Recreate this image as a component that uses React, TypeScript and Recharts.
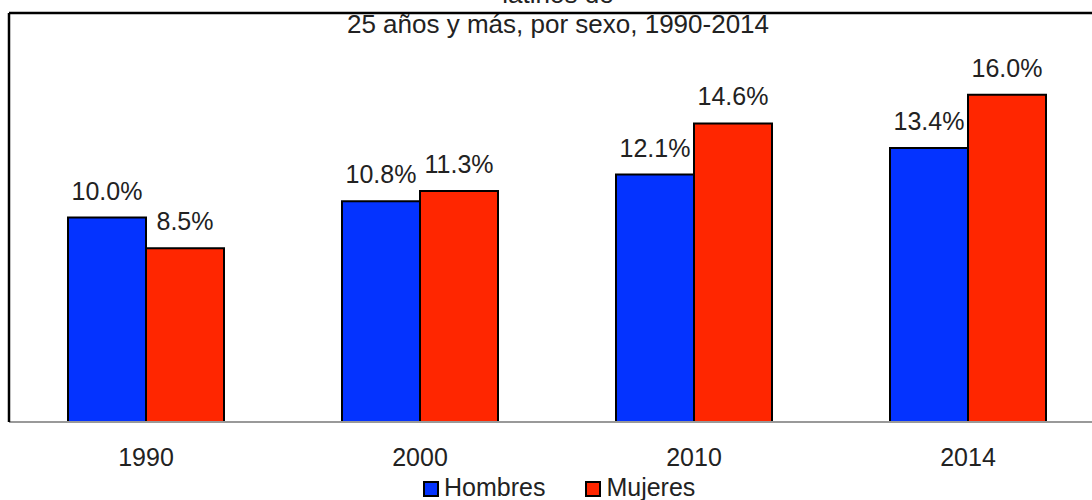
import { Bar, BarChart, LabelList, ReferenceLine, XAxis, YAxis } from "recharts";

const years = ["1990", "2000", "2010", "2014"];
const hombres = [10.0, 10.8, 12.1, 13.4];
const mujeres = [8.5, 11.3, 14.6, 16.0];

const titleLines = ["latinos de", "25 años y más, por sexo, 1990-2014"];
const seriesNames = ["Hombres", "Mujeres"];
const COLORS = ["#0433ff", "#ff2600"];

const FONT = "'Liberation Sans', Arial, Helvetica, sans-serif";

const data = years.map((year, i) => ({
    year,
    hombres: hombres[i],
    mujeres: mujeres[i],
}));

const fmt = (v: any) => `${Number(v).toFixed(1)}%`;

export default function App() {
    return (
        <div
            style={{
                position: "absolute",
                left: 0,
                top: 0,
                width: 1092,
                height: 500,
                overflow: "hidden",
                background: "#fff",
                fontFamily: FONT,
            }}
        >
            <BarChart
                width={1108}
                height={500}
                data={data}
                margin={{ top: 13, right: 3, left: 7, bottom: 18 }}
                barSize={78}
                barGap={0}
            >
                <XAxis
                    dataKey='year'
                    height={60}
                    tickLine={false}
                    tickSize={0}
                    tickMargin={26}
                    axisLine={{ stroke: "#999", strokeWidth: 2 }}
                    tick={{ fill: "#222", fontSize: 25, fontFamily: FONT }}
                />
                {/* frame on the left */}
                <YAxis
                    width={2}
                    domain={[0, 20]}
                    tick={false}
                    tickLine={false}
                    axisLine={{ stroke: "#000", strokeWidth: 2.5 }}
                />
                <ReferenceLine y={20} stroke='#000' strokeWidth={2.5} />
                <Bar
                    dataKey='hombres'
                    name={seriesNames[0]}
                    fill={COLORS[0]}
                    stroke='#000'
                    strokeWidth={2}
                    isAnimationActive={false}
                >
                    <LabelList
                        dataKey='hombres'
                        position='top'
                        offset={18}
                        formatter={fmt}
                        fill='#222'
                        fontSize={25}
                        fontFamily={FONT}
                    />
                </Bar>
                <Bar
                    dataKey='mujeres'
                    name={seriesNames[1]}
                    fill={COLORS[1]}
                    stroke='#000'
                    strokeWidth={2}
                    isAnimationActive={false}
                >
                    <LabelList
                        dataKey='mujeres'
                        position='top'
                        offset={18}
                        formatter={fmt}
                        fill='#222'
                        fontSize={25}
                        fontFamily={FONT}
                    />
                </Bar>
            </BarChart>

            {/* title, partly cut off at the top like the original */}
            <div
                style={{
                    position: "absolute",
                    left: 0,
                    width: 1116,
                    top: -21,
                    textAlign: "center",
                    fontSize: 26,
                    lineHeight: "30px",
                    color: "#222",
                }}
            >
                {titleLines.map((t) => (
                    <div key={t}>{t}</div>
                ))}
            </div>

            {/* legend */}
            <div
                style={{
                    position: "absolute",
                    left: 423,
                    top: 472,
                    display: "flex",
                    alignItems: "center",
                    fontSize: 25,
                    lineHeight: "30px",
                    color: "#222",
                }}
            >
                {seriesNames.map((name, i) => (
                    <div
                        key={name}
                        style={{
                            display: "flex",
                            alignItems: "center",
                            marginRight: i === 0 ? 40 : 0,
                        }}
                    >
                        <span
                            style={{
                                width: 12,
                                height: 12,
                                background: COLORS[i],
                                border: "2px solid #000",
                                marginRight: 5,
                                marginTop: 3,
                            }}
                        />
                        <span>{name}</span>
                    </div>
                ))}
            </div>
        </div>
    );
}
